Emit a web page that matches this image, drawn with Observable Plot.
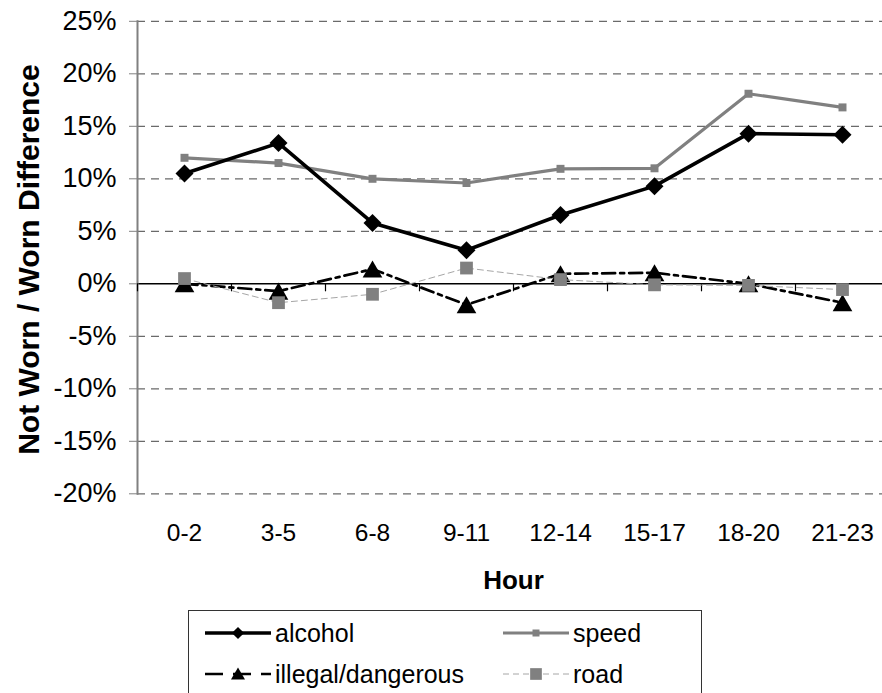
<!DOCTYPE html>
<html><head><meta charset="utf-8">
<script src="https://cdn.jsdelivr.net/npm/d3@7"></script>
<script src="https://cdn.jsdelivr.net/npm/@observablehq/plot@0.6"></script>
<style>
body{margin:0;background:#fff;font-family:"Liberation Sans",Arial,sans-serif;}
#chart svg{display:block;}
#legend{position:relative;margin-left:188px;margin-top:5px;width:514px;height:100px;border:1px solid #333;box-sizing:border-box;}
#legend svg{position:absolute;left:-1px;top:-1px;}
</style></head><body>
<div id="chart"></div>
<div id="legend"></div>
<script>
// ---- data ----
const hours = ["0-2","3-5","6-8","9-11","12-14","15-17","18-20","21-23"];
const alcohol = [10.5, 13.4, 5.8, 3.2, 6.55, 9.3, 14.3, 14.2];
const speed = [12.0, 11.5, 10.0, 9.6, 10.95, 11.0, 18.1, 16.8];
const illegal = [0.0, -0.7, 1.4, -2.0, 0.95, 1.05, 0.0, -1.8];
const road = [0.5, -1.8, -1.0, 1.5, 0.4, -0.1, -0.15, -0.55];
const yTicks = [-20, -15, -10, -5, 0, 5, 10, 15, 20, 25];
const seriesNames = ["alcohol", "speed", "illegal/dangerous", "road"];
const yLabel = "Not Worn / Worn Difference";
const xLabel = "Hour";

const rows = (vals, name) => hours.map((h, i) => ({hour: h, value: vals[i], series: name}));
const dAlcohol = rows(alcohol, seriesNames[0]);
const dSpeed = rows(speed, seriesNames[1]);
const dIllegal = rows(illegal, seriesNames[2]);
const dRoad = rows(road, seriesNames[3]);

const W = 882, H = 605, plotTop = 20.8, plotBottom = 493.3, plotLeft = 137;
const band = (889 - plotLeft) / hours.length;

const chart = Plot.plot({
  width: W, height: H,
  marginLeft: plotLeft, marginRight: 0, marginTop: plotTop, marginBottom: H - plotBottom,
  x: {type: "band", domain: hours, range: [plotLeft, 889], padding: 0},
  y: {domain: [-20, 25], range: [plotBottom, plotTop]},
  style: {fontFamily: "'Liberation Sans', Arial, sans-serif", fontSize: "25px", color: "#000", background: "#fff", overflow: "visible"},
  marks: [
    Plot.ruleY(yTicks.filter(d => d !== 0), {stroke: "#6a6a6a", strokeDasharray: "8,6", strokeWidth: 1.3}),
    Plot.ruleY([0], {stroke: "#000", strokeWidth: 1.4}),
    Plot.frame({anchor: "left", stroke: "#808080", strokeWidth: 2}),
    Plot.ruleX(hours, {x: d => d, y1: 0, y2: 0, insetBottom: -8, dx: -band / 2, stroke: "#000", strokeWidth: 1.2}),
    Plot.axisY({ticks: yTicks, tickFormat: d => d + "%", tickSize: 8, tickPadding: 13, stroke: "#808080", label: null, fontSize: 27}),
    Plot.axisX({tickSize: 0, tickPadding: 30, label: null, fontSize: 24.5}),
    Plot.text([xLabel], {text: d => d, frameAnchor: "bottom", dx: 3.5, dy: 77, lineAnchor: "top", fontWeight: "bold", fontSize: 26}),
    Plot.text([yLabel], {text: d => d, frameAnchor: "left", rotate: -90, dx: 28.5 - plotLeft, dy: 2, textAnchor: "middle", lineAnchor: "middle", fontWeight: "bold", fontSize: 30}),
    // speed
    Plot.line(dSpeed, {x: "hour", y: "value", stroke: "#808080", strokeWidth: 3.2}),
    Plot.dot(dSpeed, {x: "hour", y: "value", symbol: "square", r: 4.5, fill: "#808080", stroke: "none"}),
    // alcohol
    Plot.line(dAlcohol, {x: "hour", y: "value", stroke: "#000", strokeWidth: 3.6}),
    Plot.dot(dAlcohol, {x: "hour", y: "value", symbol: "diamond2", r: 8.1, fill: "#000", stroke: "none"}),
    // illegal/dangerous
    Plot.line(dIllegal, {x: "hour", y: "value", stroke: "#000", strokeWidth: 2.7, strokeDasharray: "13,5,4,5"}),
    Plot.dot(dIllegal, {x: "hour", y: "value", symbol: "triangle", r: 7.3, dy: 2.8, fill: "#000", stroke: "none"}),
    // road
    Plot.line(dRoad, {x: "hour", y: "value", stroke: "#a6a6a6", strokeWidth: 1, strokeDasharray: "6,4"}),
    Plot.dot(dRoad, {x: "hour", y: "value", symbol: "square", r: 7.2, fill: "#808080", stroke: "none"})
  ]
});
document.getElementById("chart").appendChild(chart);

// ---- legend ----
const lg = d3.select("#legend").append("svg").attr("width", 514).attr("height", 100)
  .style("font-family", "'Liberation Sans', Arial, sans-serif").style("font-size", "25px");
const legendItems = [
  {name: seriesNames[0], col: 0, row: 0, stroke: "#000", sw: 3.5, dash: null, sym: d3.symbolDiamond2, size: 95, fill: "#000"},
  {name: seriesNames[1], col: 1, row: 0, stroke: "#808080", sw: 3, dash: null, sym: d3.symbolSquare, size: 49, fill: "#808080"},
  {name: seriesNames[2], col: 0, row: 1, stroke: "#000", sw: 2.7, dash: "18,10", sym: d3.symbolTriangle, size: 85, fill: "#000"},
  {name: seriesNames[3], col: 1, row: 1, stroke: "#a6a6a6", sw: 1, dash: "6,4", sym: d3.symbolSquare, size: 137, fill: "#808080"}
];
const colX = [17, 315], rowY = [23, 64];
legendItems.forEach(it => {
  const x0 = colX[it.col], y = rowY[it.row];
  const g = lg.append("g");
  const ln = g.append("line").attr("x1", x0).attr("x2", x0 + 66).attr("y1", y).attr("y2", y)
    .attr("stroke", it.stroke).attr("stroke-width", it.sw);
  if (it.dash) ln.attr("stroke-dasharray", it.dash);
  g.append("path").attr("d", d3.symbol(it.sym, it.size)())
    .attr("transform", `translate(${x0 + 33},${y + (it.sym === d3.symbolTriangle ? 1.5 : 0)})`).attr("fill", it.fill);
  g.append("text").attr("x", x0 + 70).attr("y", y).attr("dy", "0.35em").text(it.name);
});
</script>
</body></html>
